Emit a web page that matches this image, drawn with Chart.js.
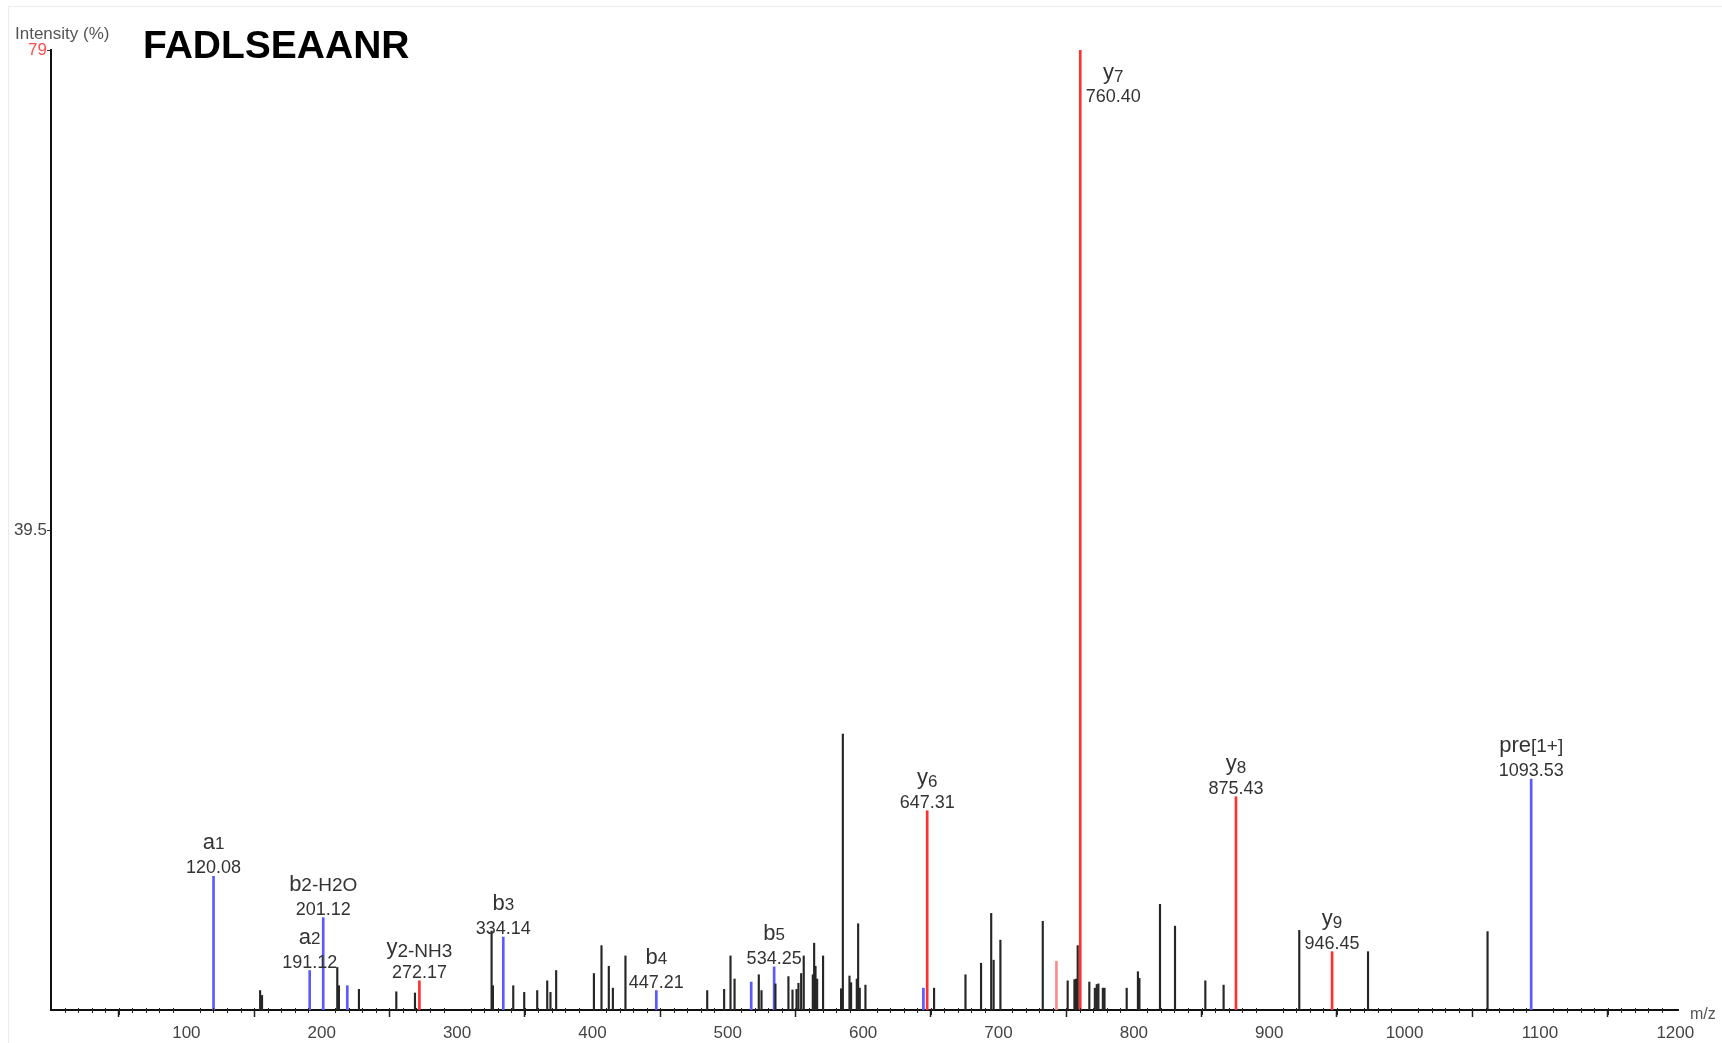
<!DOCTYPE html>
<html>
<head>
<meta charset="utf-8">
<title>FADLSEAANR</title>
<script src="https://cdn.jsdelivr.net/npm/chart.js@4.4.1/dist/chart.umd.min.js"></script>
<style>
  html, body { margin: 0; padding: 0; background: #fff; }
  #wrap { position: absolute; left: 0; top: 0; width: 1722px; height: 1043px; overflow: hidden; }
  #frame { position: absolute; left: 8px; top: 6px; right: 0; bottom: 0; border-left: 1px solid #ececec; border-top: 1px solid #ececec; }
  canvas { position: absolute; left: 0; top: 0; }
  .txt { position: absolute; line-height: 1; font-family: "Liberation Sans", Arial, sans-serif; white-space: nowrap; }
  #title { left: 143px; top: 25px; font-size: 39px; font-weight: bold; color: #000; }
  #ylab { left: 15px; top: 25px; font-size: 17px; color: #555; }
  #xlab { left: 1690px; top: 1006px; font-size: 16px; color: #555; }
</style>
</head>
<body>
<div id="wrap">
  <div id="frame"></div>
  <canvas id="spectrum" width="1722" height="1043"></canvas>
  <div class="txt" id="ylab">Intensity (%)</div>
  <div class="txt" id="title">FADLSEAANR</div>
  <div class="txt" id="xlab">m/z</div>
</div>
<script>
// unmatched peaks (black)
const blackMz = [154.5, 155.9, 211.5, 212.7, 227.5, 255.1, 268.9, 325.5, 326.5, 341.5,
  349.6, 359.2, 366.6, 369.0, 373.2, 401.1, 406.7, 412.1, 415.1, 424.4,
  484.8, 497.3, 502.0, 505.0, 522.9, 524.9, 535.2, 544.8, 547.8, 550.8,
  552.2, 554.2, 556.1, 562.8, 563.8, 564.8, 566.0, 570.4, 583.7, 585.0,
  589.9, 591.1, 595.3, 596.3, 597.5, 601.7, 652.4, 675.6, 687.1, 694.6,
  696.4, 701.4, 732.7, 751.1, 756.1, 757.3, 758.5, 767.1, 771.2, 772.6,
  773.8, 777.1, 778.3, 794.7, 803.0, 804.1, 819.3, 830.4, 852.8, 866.3,
  922.2, 973.0, 1061.3];
const blackInt = [1.6, 1.2, 3.5, 2.0, 1.7, 1.5, 1.4, 6.5, 2.0, 2.0,
  1.45, 1.6, 2.4, 1.45, 3.25, 3.0, 5.3, 3.6, 1.8, 4.45,
  1.6, 1.7, 4.45, 2.55, 2.9, 1.6, 2.15, 2.75, 1.65, 1.7,
  2.2, 3.0, 4.45, 2.9, 5.5, 3.6, 2.55, 4.45, 1.75, 22.7,
  2.8, 2.25, 2.55, 7.1, 1.8, 2.05, 1.8, 2.9, 3.85, 7.95,
  4.1, 5.75, 7.3, 2.4, 2.5, 2.55, 5.3, 2.3, 1.8, 2.1,
  2.15, 1.8, 1.8, 1.8, 3.15, 2.6, 8.7, 6.9, 2.4, 2.05,
  6.55, 4.8, 6.45];

// b/a ions and precursor (blue)
const blueMz = [120.08, 191.12, 201.12, 218.9, 334.14, 447.21, 517.3, 534.25, 644.5, 1093.53];
const blueInt = [11.0, 3.25, 7.6, 2.0, 6.0, 1.6, 2.3, 3.55, 1.8, 19.0];

// y ions (red)
const redMz = [272.17, 647.31, 742.8, 760.40, 875.43, 946.45];
const redInt = [2.4, 16.4, 4.0, 79.0, 17.55, 4.8];

// annotations
const ionMz = [120.08, 191.12, 201.12, 272.17, 334.14, 447.21, 534.25, 647.31, 760.40, 875.43, 946.45, 1093.53];
const ionName = ['a', 'a', 'b', 'y', 'b', 'b', 'b', 'y', 'y', 'y', 'y', 'pre'];
const ionSub = ['1', '2', '2-H2O', '2-NH3', '3', '4', '5', '6', '7', '8', '9', '[1+]'];

// axis ticks
const xTickStep = 100;
const xMinorStep = 10;
const yTicks = [39.5, 79];

const FONT = '"Liberation Sans", Arial, sans-serif';

function toPoints(mz, inten) {
  return mz.map((m, i) => ({ x: m, y: inten[i] }));
}

function intensityOf(mz) {
  let i = blueMz.indexOf(mz);
  if (i >= 0) return blueInt[i];
  i = redMz.indexOf(mz);
  if (i >= 0) return redInt[i];
  return 0;
}

// small minor ticks along the m/z axis
const minorTicks = {
  id: 'minorTicks',
  afterDraw(chart) {
    const x = chart.scales.x;
    const ctx = chart.ctx;
    const base = chart.chartArea.bottom;
    ctx.save();
    ctx.strokeStyle = '#222';
    ctx.lineWidth = 1;
    for (let v = xMinorStep; v <= x.max; v += xMinorStep) {
      if (v % xTickStep === 0) continue;
      const px = Math.round(x.getPixelForValue(v)) + 0.5;
      const len = v % 50 === 0 ? 5 : 3;
      ctx.beginPath();
      ctx.moveTo(px, base - 2);
      ctx.lineTo(px, base + len);
      ctx.stroke();
    }
    ctx.restore();
  }
};

// ion labels above the matched peaks
const ionLabels = {
  id: 'ionLabels',
  afterDatasetsDraw(chart) {
    const ctx = chart.ctx;
    const xs = chart.scales.x, ys = chart.scales.y;
    const area = chart.chartArea;
    ctx.save();
    ctx.fillStyle = '#333';
    ctx.textBaseline = 'alphabetic';
    ionMz.forEach((mz, i) => {
      const px = xs.getPixelForValue(mz);
      const top = ys.getPixelForValue(intensityOf(mz));
      let cx = px, numBase = top - 3, nameBase = top - 27;
      if (nameBase - 20 < area.top) {
        // peak reaches the top: put the label beside it
        cx = px + 33;
        numBase = area.top + 52;
        nameBase = area.top + 29;
      }
      const subSize = ionSub[i].length > 1 ? 19 : 17;
      ctx.font = '22px ' + FONT;
      const w1 = ctx.measureText(ionName[i]).width;
      ctx.font = subSize + 'px ' + FONT;
      const w2 = ctx.measureText(ionSub[i]).width;
      const start = cx - (w1 + w2) / 2;
      ctx.textAlign = 'left';
      ctx.font = '22px ' + FONT;
      ctx.fillText(ionName[i], start, nameBase);
      ctx.font = subSize + 'px ' + FONT;
      const drop = ionName[i] === 'y' ? 3 : 0;
      ctx.fillText(ionSub[i], start + w1, nameBase + drop);
      ctx.textAlign = 'center';
      ctx.font = '18px ' + FONT;
      ctx.fillText(mz.toFixed(2), cx, numBase);
    });
    ctx.restore();
  }
};

new Chart(document.getElementById('spectrum').getContext('2d'), {
  type: 'bar',
  data: {
    datasets: [
      {
        label: 'other',
        data: toPoints(blackMz, blackInt),
        backgroundColor: '#262626',
        barThickness: 1.5
      },
      {
        label: 'b ions',
        data: toPoints(blueMz, blueInt),
        backgroundColor: '#5a5aff',
        barThickness: 2
      },
      {
        label: 'y ions',
        data: toPoints(redMz, redInt),
        backgroundColor: (c) => (c.raw && ionMz.includes(c.raw.x)) ? '#ff3030' : '#ff8a8a',
        barThickness: 2
      }
    ]
  },
  options: {
    responsive: false,
    devicePixelRatio: 1,
    animation: false,
    layout: { padding: { top: 50, right: 44, bottom: 0, left: 1 } },
    datasets: { bar: { grouped: false } },
    plugins: {
      legend: { display: false },
      tooltip: { enabled: false }
    },
    scales: {
      x: {
        type: 'linear',
        min: 0,
        max: 1202,
        offset: false,
        afterFit: (s) => { s.height = 33; },
        afterBuildTicks: (s) => {
          const t = [];
          for (let v = 0; v <= 1200; v += xTickStep) t.push({ value: v });
          s.ticks = t;
        },
        border: { display: true, color: '#111', width: 2 },
        grid: {
          drawOnChartArea: false,
          drawTicks: true,
          tickLength: 7,
          tickWidth: 1.5,
          tickColor: (c) => (c.tick && c.tick.value === 0) ? 'rgba(0,0,0,0)' : '#222'
        },
        ticks: {
          autoSkip: false,
          maxRotation: 0,
          padding: 6,
          color: '#444',
          font: { family: FONT, size: 17 },
          callback: (v) => v === 0 ? '' : String(v)
        }
      },
      y: {
        min: 0,
        max: 79,
        afterFit: (s) => { s.width = 50; },
        afterBuildTicks: (s) => { s.ticks = yTicks.map(v => ({ value: v })); },
        border: { display: true, color: '#111', width: 2 },
        grid: {
          drawOnChartArea: false,
          drawTicks: true,
          tickLength: 4,
          tickColor: '#333'
        },
        ticks: {
          padding: 0,
          color: (c) => (c.tick && c.tick.value === 79) ? '#ff4d4d' : '#444',
          font: { family: FONT, size: 17 },
          callback: (v) => String(v)
        }
      }
    }
  },
  plugins: [minorTicks, ionLabels]
});
</script>
</body>
</html>
